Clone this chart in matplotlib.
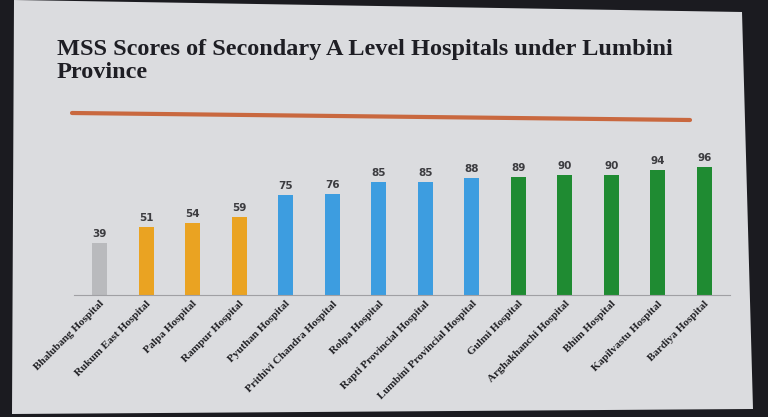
import matplotlib
matplotlib.use("Agg")
import matplotlib.pyplot as plt
from matplotlib.patches import Polygon
from matplotlib.lines import Line2D

hospitals = ["Bhalubang Hospital", "Rukum East Hospital", "Palpa Hospital", "Rampur Hospital",
             "Pyuthan Hospital", "Prithivi Chandra Hospital", "Rolpa Hospital",
             "Rapti Provincial Hospital", "Lumbini Provincial Hospital", "Gulmi Hospital",
             "Arghakhanchi Hospital", "Bhim Hospital", "Kapilvastu Hospital", "Bardiya Hospital"]
scores = [39, 51, 54, 59, 75, 76, 85, 85, 88, 89, 90, 90, 94, 96]
groups = ["gray", "orange", "orange", "orange", "blue", "blue", "blue", "blue", "blue",
          "green", "green", "green", "green", "green"]
palette = {"gray": "#b9babd", "orange": "#eaa322", "blue": "#3d9de0", "green": "#1f8b32"}
title = "MSS Scores of Secondary A Level Hospitals under Lumbini\nProvince"

W, H = 768, 417
fig = plt.figure(figsize=(W / 100, H / 100), dpi=100)
fig.patch.set_facecolor("#1b1b20")

def fx(x): return x / W
def fy(y): return 1 - y / H

slide = Polygon([(fx(14), fy(0)), (fx(742), fy(12)), (fx(753), fy(409)), (fx(12), fy(414))],
                closed=True, transform=fig.transFigure, facecolor="#dbdcdf", edgecolor="none",
                zorder=-10)
fig.patches.append(slide)

fig.text(fx(57), fy(39), title, fontsize=17.5, fontweight="bold", family="Liberation Serif",
         color="#1e1e24", va="top", ha="left", linespacing=1.1)

fig.lines.append(Line2D([fx(72), fx(690)], [fy(113), fy(120)], transform=fig.transFigure,
                        color="#c9683f", linewidth=3, solid_capstyle="round", zorder=-5))

ax = fig.add_axes([fx(74), fy(295), fx(730) - fx(74), (295 - 162) / H])
ax.set_facecolor("none")
x = list(range(len(hospitals)))
bars = ax.bar(x, scores, width=0.32, color=[palette[g] for g in groups], zorder=2)
for xi, s in zip(x, scores):
    ax.text(xi, s + 3, str(s), ha="center", va="bottom", fontsize=7.5, fontweight="bold",
            color="#3c3c40", family="DejaVu Sans")
ax.set_xlim(-0.55, len(hospitals) - 0.45)
ax.set_ylim(0, 100)
ax.set_yticks([])
ax.set_xticks(x)
ax.set_xticklabels(hospitals, rotation=45, ha="right", rotation_mode="anchor",
                   fontsize=8, fontweight="bold", family="Liberation Serif", color="#222226")
ax.tick_params(axis="x", length=0, pad=3)
for side in ["top", "left", "right"]:
    ax.spines[side].set_visible(False)
ax.spines["bottom"].set_color("#a0a0a4")
ax.spines["bottom"].set_linewidth(0.8)

fig.savefig("out.png", dpi=100, facecolor=fig.get_facecolor())
